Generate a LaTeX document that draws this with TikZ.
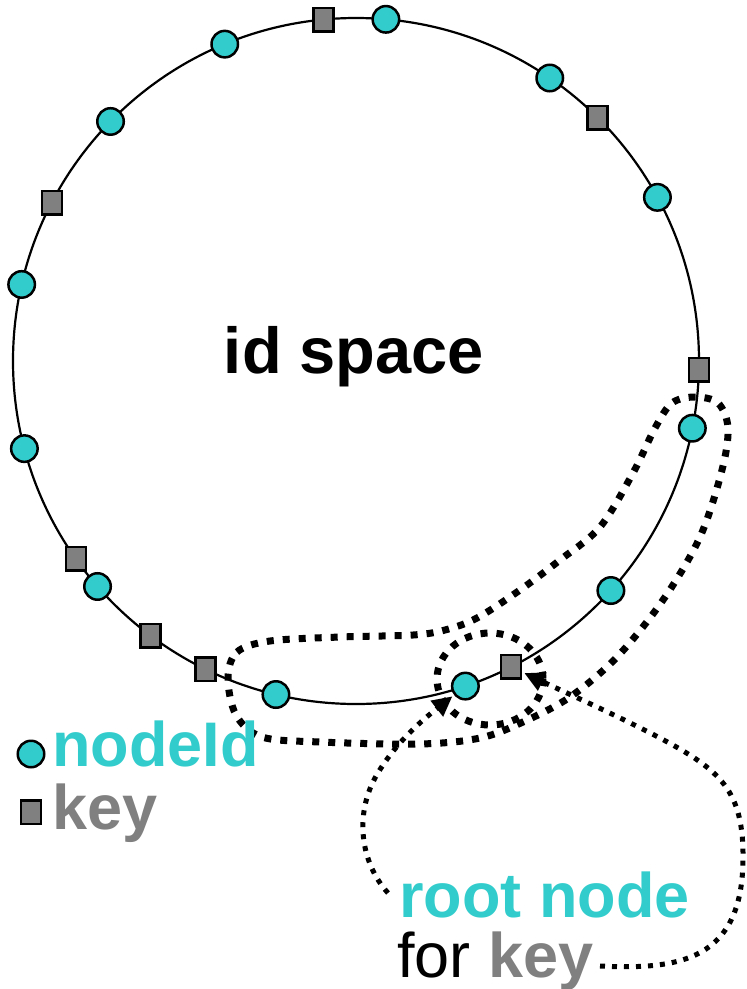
\documentclass[tikz,border=0pt]{standalone}
\usepackage{fontspec}
\setmainfont{Liberation Sans}
\usetikzlibrary{arrows.meta,calc}
\definecolor{idcyan}{HTML}{33CCCC}
\definecolor{keygray}{HTML}{808080}
\begin{document}
\begin{tikzpicture}[x=1pt,y=-1pt,
  ring/.style={line width=2.2pt},
  idnode/.style={circle,draw=black,line width=2.5pt,fill=idcyan,minimum size=26.5pt,inner sep=0pt},
  keynode/.style={rectangle,draw=black,line width=2.5pt,fill=keygray,minimum width=20pt,minimum height=23.5pt,inner sep=0pt},
  region/.style={line width=7pt,dash pattern=on 7pt off 9pt},
  pointer/.style={line width=5pt,dash pattern=on 5pt off 7pt,shorten >=2pt,-{Triangle[length=20pt,width=19pt]}},
  lbl/.style={inner sep=0pt,anchor=base west,font=\bfseries\fontsize{63}{70}\selectfont}
]
\useasboundingbox (0,0) rectangle (747,989);

% the identifier ring
\coordinate (C) at (356,361);
\draw[ring] (C) circle[radius=343];

% node identifiers on the ring
\foreach \a [count=\i] in {-85,-112.5,-55.6,-135.7,-28.5,-167.1,165.2,11.3,42,138.9,103.5,71.4}
  \node[idnode] (n\i) at ($(C)+(\a:343)$) {};
% keys on the ring
\foreach \a [count=\i] in {-95.4,-45.2,-152.5,1.5,144.75,126.8,116,63.1}
  \node[keynode] (k\i) at ($(C)+(\a:343)$) {};

% neighbourhood regions
\draw[region] plot[smooth cycle,tension=0.55] coordinates {
  (228,678) (237,652) (270,641) (340,637) (413,635) (445,630) (477,618)
  (520,590) (560,560) (600,527) (633,473) (655,428) (672,403) (695,397)
  (718,403) (728,428) (722,470) (700,537) (663,600) (617,657) (570,697)
  (523,722) (480,738) (420,744) (320,742) (262,737) (236,715)};
\draw[region] (490,679) ellipse[x radius=53,y radius=46];

% title
\node[inner sep=0pt,anchor=base,font=\bfseries\fontsize{65}{70}\selectfont] (title) at (354,373) {id space};

% legend
\node[idnode] (legid) at (31,754) {};
\node[keynode] (legkey) at (31,812) {};
\node[lbl,text=idcyan] (legidtxt) at (52,766) {nodeId};
\node[lbl,text=keygray] (legkeytxt) at (52,829) {key};

% captions
\node[lbl,text=idcyan] (rootlbl) at (399,917) {root node};
\node[lbl,font=\fontsize{63}{70}\selectfont] (forlbl) at (397,977) {for \textcolor{keygray}{\bfseries key}};

% pointers from the captions
\coordinate (p1) at (388,893);
\coordinate (p2) at (600,966);
\draw[pointer] (p1) .. controls (360,862) and (355,815) .. (375,778)
  .. controls (395,742) and (425,718) .. (n12);
\draw[pointer] (p2) .. controls (680,970) and (742,960) .. (743,860)
  .. controls (744,790) and (720,770) .. (660,738)
  .. controls (610,712) and (560,690) .. (k8);
\end{tikzpicture}
\end{document}
